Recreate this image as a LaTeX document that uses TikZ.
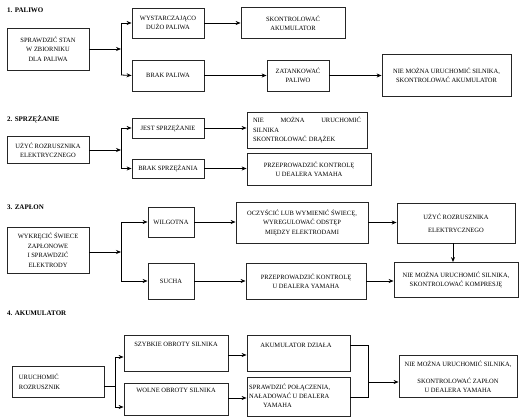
\documentclass[tikz,border=0pt]{standalone}
\usepackage{fontspec}
\setmainfont{Liberation Serif}
\usetikzlibrary{arrows.meta}
\tikzset{
  box/.style={draw=black!85, line width=0.8pt, inner sep=1pt, align=center, font=\fontsize{6.5}{9.5}\selectfont},
  lbl/.style={inner sep=0pt, align=center, font=\fontsize{6.5}{9.5}\selectfont},
  ttl/.style={anchor=west, inner sep=0pt, font=\fontsize{7}{8}\selectfont\bfseries},
  arr/.style={line width=0.8pt, -{Stealth[length=5pt,width=4pt]}},
  ln/.style={line width=0.8pt}
}
\begin{document}
\begin{tikzpicture}[x=1pt,y=-1pt]
\fill[white] (0,0) rectangle (520,417);
\useasboundingbox (0,0) rectangle (520,417);

% ---------- 1. PALIWO
\node[ttl] (t1) at (7,10) {1. PALIWO};
\node[box, minimum width=82, minimum height=42] (a1) at (48,49) {SPRAWDZIĆ STAN\\W ZBIORNIKU\\DLA PALIWA};
\coordinate (j1) at (121,49);
\coordinate (j1t) at (121,23);
\coordinate (j1b) at (121,75);
\node[box, minimum width=72, minimum height=30] (b1) at (168,23) {WYSTARCZAJĄCO\\DUŻO PALIWA};
\node[box, minimum width=104, minimum height=31] (d1) at (293,23) {SKONTROLOWAĆ\\AKUMULATOR};
\node[box, minimum width=72, minimum height=31] (c1) at (168,75.5) {BRAK PALIWA};
\node[box, minimum width=62, minimum height=31] (e1) at (298,75.5) {ZATANKOWAĆ\\PALIWO};
\node[box, minimum width=129, minimum height=42] (f1) at (446.5,75.5) {NIE MOŻNA URUCHOMIĆ SILNIKA,\\SKONTROLOWAĆ AKUMULATOR};
\draw[arr] (a1.east) -- (j1);
\draw[ln] (j1t) -- (j1b);
\draw[arr] (j1t) -- (b1.west);
\draw[arr] (j1b) -- (c1.west);
\draw[arr] (b1.east) -- (d1.west);
\draw[arr] (c1.east) -- (e1.west);
\draw[arr] (e1.east) -- (f1.west);

% ---------- 2. SPRZĘŻANIE
\node[ttl] (t2) at (7,119) {2. SPRZĘŻANIE};
\node[box, minimum width=82, minimum height=27] (a2) at (48,150) {UŻYĆ ROZRUSZNIKA\\ELEKTRYCZNEGO};
\coordinate (j2) at (121,150);
\coordinate (j2t) at (121,128);
\coordinate (j2b) at (121,168.5);
\node[box, minimum width=72, minimum height=20] (b2) at (168,128) {JEST SPRZĘŻANIE};
\node[box, minimum width=72, minimum height=19] (c2) at (168,168.5) {BRAK SPRZĘŻANIA};
\node[box, minimum width=120, minimum height=36, align=left, text width=108] (d2) at (307,130) {NIE\hfill MOŻNA\hfill URUCHOMIĆ\\SILNIKA\\SKONTROLOWAĆ DRĄŻEK};
\node[box, minimum width=124, minimum height=32] (e2) at (309,169) {PRZEPROWADZIĆ KONTROLĘ\\U DEALERA YAMAHA};
\draw[arr] (a2.east) -- (j2);
\draw[ln] (j2t) -- (j2b);
\draw[arr] (j2t) -- (b2.west);
\draw[arr] (j2b) -- (c2.west);
\draw[arr] (b2.east) -- (b2.east -| d2.west);
\draw[arr] (c2.east) -- (c2.east -| e2.west);

% ---------- 3. ZAPŁON
\node[ttl] (t3) at (7,207) {3. ZAPŁON};
\node[box, minimum width=82, minimum height=46] (a3) at (48,250) {WYKRĘCIĆ ŚWIECE\\ZAPŁONOWE\\I SPRAWDZIĆ\\ELEKTRODY};
\coordinate (j3) at (121,252);
\coordinate (j3t) at (121,222);
\coordinate (j3b) at (121,281);
\node[box, minimum width=46, minimum height=30] (b3) at (171,222) {WILGOTNA};
\node[box, minimum width=46, minimum height=36] (c3) at (171,281) {SUCHA};
\node[box, minimum width=132, minimum height=41] (d3) at (302,222.5) {OCZYŚCIĆ LUB WYMIENIĆ ŚWIECĘ,\\WYREGULOWAĆ ODSTĘP\\MIĘDZY ELEKTRODAMI};
\node[box, minimum width=118, minimum height=40] (e3) at (456,223) {UŻYĆ ROZRUSZNIKA\\[3pt]ELEKTRYCZNEGO};
\node[box, minimum width=120, minimum height=36] (f3) at (306,281) {PRZEPROWADZIĆ KONTROLĘ\\U DEALERA YAMAHA};
\node[box, minimum width=124, minimum height=35] (g3) at (456,280) {NIE MOŻNA URUCHOMIĆ SILNIKA,\\SKONTROLOWAĆ KOMPRESJĘ};
\draw[arr] (a3.east |- j3) -- (j3);
\draw[ln] (j3t) -- (j3b);
\draw[arr] (j3t) -- (b3.west);
\draw[arr] (j3b) -- (c3.west);
\draw[arr] (b3.east) -- (b3.east -| d3.west);
\draw[arr] (d3.east) -- (d3.east -| e3.west);
\draw[arr] (c3.east) -- (c3.east -| f3.west);
\draw[arr] (f3.east) -- (f3.east -| g3.west);
\draw[arr] ([xshift=-3pt]e3.south) -- ([xshift=-3pt]e3.south |- g3.north);

% ---------- 4. AKUMULATOR
\node[ttl] (t4) at (7,313) {4. AKUMULATOR};
\node[box, minimum width=92, minimum height=31, align=left, text width=78] (a4) at (58,381.5) {URUCHOMIĆ\\ROZRUSZNIK};
\coordinate (j4) at (115,386);
\coordinate (j4t) at (115,357);
\coordinate (j4b) at (115,407);
\node[box, minimum width=104, minimum height=36] (b4) at (176,353) {};
\node[lbl] (b4t) at (176,344) {SZYBKIE OBROTY SILNIKA};
\node[box, minimum width=104, minimum height=32] (c4) at (176,399) {};
\node[lbl] (c4t) at (176,390) {WOLNE OBROTY SILNIKA};
\node[box, minimum width=103, minimum height=36] (d4) at (298.5,353) {};
\node[lbl] (d4t) at (296,345) {AKUMULATOR DZIAŁA};
\node[box, minimum width=103, minimum height=39] (e4) at (298.5,396.5) {};
\node[lbl, align=left, anchor=north west, font=\fontsize{6.5}{9}\selectfont] (e4t) at (249,384) {SPRAWDZIĆ POŁĄCZENIA,\\NAŁADOWAĆ U DEALERA\\\hspace*{14pt}YAMAHA};
\coordinate (k4a) at (368,345);
\coordinate (k4b) at (368,397);
\coordinate (k4m) at (368,382);
\node[box, minimum width=118, minimum height=42] (f4) at (458,376) {};
\node[lbl] (f4t) at (458,364) {NIE MOŻNA URUCHOMIĆ SILNIKA,};
\node[lbl] (f4u) at (458,385) {SKONTROLOWAĆ ZAPŁON\\U DEALERA YAMAHA};
\draw[ln] (a4.east |- j4) -- (j4);
\draw[ln] (j4t) -- (j4b);
\draw[arr] (j4t) -- (j4t -| b4.west);
\draw[arr] (j4b) -- (j4b -| c4.west);
\draw[arr] (b4.east |- 0,355) -- (d4.west |- 0,355);
\draw[arr] (c4.east |- 0,398) -- (e4.west |- 0,398);
\draw[ln] (d4.east |- k4a) -- (k4a) -- (k4b) -- (e4.east |- k4b);
\draw[arr] (k4m) -- (k4m -| f4.west);
\end{tikzpicture}
\end{document}
